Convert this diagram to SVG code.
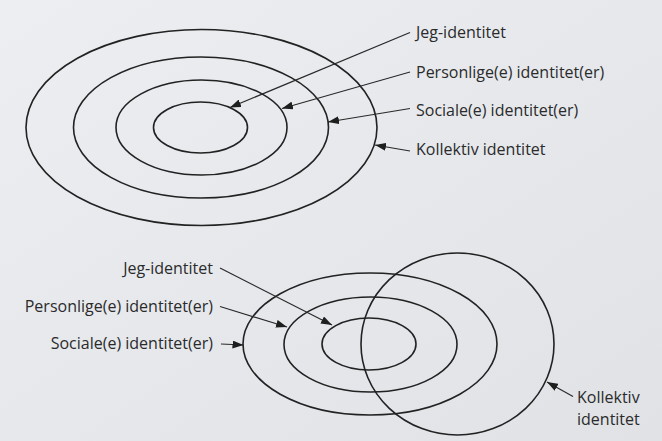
<svg xmlns="http://www.w3.org/2000/svg" width="662" height="441" viewBox="0 0 662 441">
  <defs>
    <marker id="arr" markerUnits="userSpaceOnUse" markerWidth="11" markerHeight="8" refX="11" refY="4" orient="auto">
      <path d="M0,0 L11,4 L0,8 z" fill="#1e1e1e"/>
    </marker>
    <linearGradient id="bg" x1="0" y1="0" x2="1" y2="1">
      <stop offset="0" stop-color="#eceef1"/>
      <stop offset="1" stop-color="#e0e2e6"/>
    </linearGradient>
  </defs>
  <style>
    .ring { fill: none; stroke: #222; stroke-width: 1.6; }
    .conn { fill: none; stroke: #2a2a2a; stroke-width: 1.2; marker-end: url(#arr); }
    .lbl { font-family: "Open Sans", "Noto Sans", "DejaVu Sans", sans-serif; font-size: 16px; fill: #2b2b2b; }
    .r { text-anchor: end; }
  </style>
  <rect width="662" height="441" fill="url(#bg)"/>

  <!-- Top diagram -->
  <g id="top-kollektiv">
    <ellipse class="ring" cx="201.5" cy="127.5" rx="175.5" ry="98"/>
    <text class="lbl" x="416" y="155">Kollektiv identitet</text>
  </g>
  <g id="top-sociale">
    <ellipse class="ring" cx="201" cy="127.5" rx="127.5" ry="70.5"/>
    <text class="lbl" x="416" y="116">Sociale(e) identitet(er)</text>
  </g>
  <g id="top-personlige">
    <ellipse class="ring" cx="201.5" cy="127.5" rx="85.5" ry="47.5"/>
    <text class="lbl" x="416" y="78">Personlige(e) identitet(er)</text>
  </g>
  <g id="top-jeg">
    <ellipse class="ring" cx="200.5" cy="127.5" rx="47" ry="25.5"/>
    <text class="lbl" x="416" y="38">Jeg-identitet</text>
  </g>

  <!-- Bottom diagram -->
  <g id="bot-sociale">
    <ellipse class="ring" cx="370" cy="344" rx="127" ry="71"/>
    <text class="lbl r" x="213" y="349">Sociale(e) identitet(er)</text>
  </g>
  <g id="bot-personlige">
    <ellipse class="ring" cx="370.5" cy="344.5" rx="86.5" ry="47.5"/>
    <text class="lbl r" x="213" y="312">Personlige(e) identitet(er)</text>
  </g>
  <g id="bot-jeg">
    <ellipse class="ring" cx="369" cy="344" rx="47" ry="26"/>
    <text class="lbl r" x="213" y="274">Jeg-identitet</text>
  </g>
  <g id="bot-kollektiv">
    <ellipse class="ring" cx="457.5" cy="344" rx="96.5" ry="91"/>
    <text class="lbl" x="577" y="403">Kollektiv</text>
    <text class="lbl" x="577" y="425">identitet</text>
  </g>

  <g id="connectors">
    <line class="conn" x1="410" y1="32.5" x2="230" y2="107.5"/>
    <line class="conn" x1="410" y1="72" x2="282" y2="108.5"/>
    <line class="conn" x1="410" y1="108.5" x2="328" y2="122"/>
    <line class="conn" x1="410" y1="151" x2="375" y2="145"/>
    <line class="conn" x1="220" y1="268" x2="332" y2="325"/>
    <line class="conn" x1="220" y1="306.5" x2="287" y2="327"/>
    <line class="conn" x1="221" y1="344" x2="243.5" y2="345"/>
    <line class="conn" x1="573" y1="396.5" x2="547" y2="382"/>
  </g>
</svg>
